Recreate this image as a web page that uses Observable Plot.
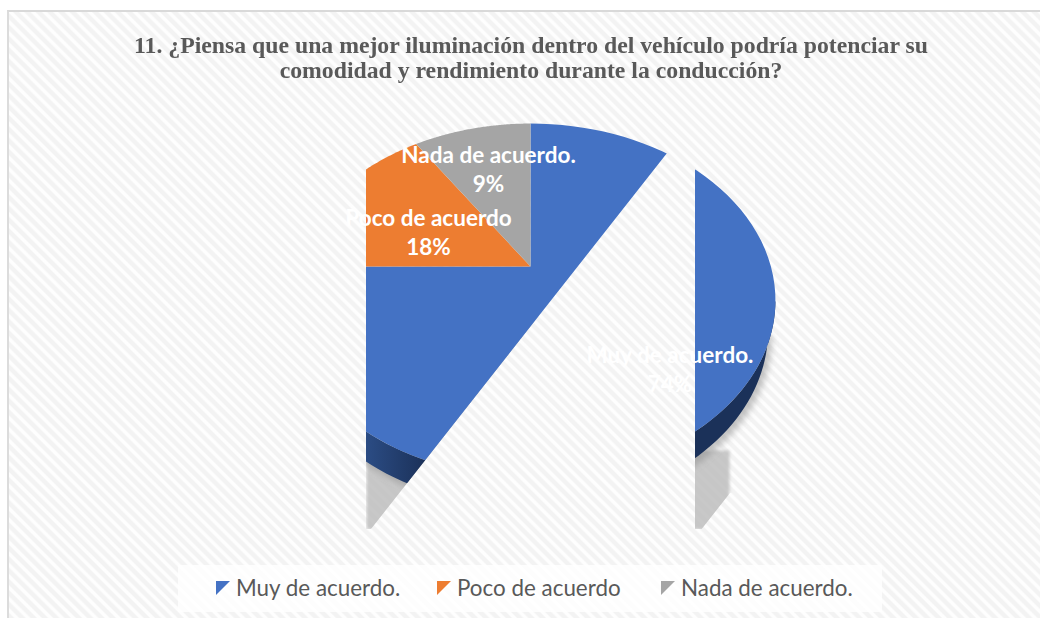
<!DOCTYPE html>
<html lang="es">
<head>
<meta charset="utf-8">
<script src="https://cdn.jsdelivr.net/npm/d3@7"></script>
<script src="https://cdn.jsdelivr.net/npm/@observablehq/plot@0.6"></script>
<style>
html,body{margin:0;padding:0;background:#fff;width:1040px;height:618px;overflow:hidden}
#chart{position:absolute;left:7px;top:10px;width:1033px;height:608px;box-sizing:border-box;
  border-left:2px solid #dcdcdc;border-top:2px solid #d9d9d9;
  background:repeating-linear-gradient(45deg,#f3f3f3 0,#f3f3f3 3px,#fefefe 4.5px,#fefefe 6.5px,#f3f3f3 8px)}
#title{position:absolute;left:0;top:33px;width:1062px;text-align:center;font:bold 23px/25px "Liberation Serif",serif;color:#595959;transform:scaleX(1.032);transform-origin:531px 0}
#plot{position:absolute;left:0;top:110px}
#plot svg{background:transparent;display:block}
#legend{position:absolute;left:178px;top:565px;width:704px;height:47px;background:rgba(255,255,255,.78);font:22.4px "Lato",sans-serif;color:#595959}
#legend span.k{position:absolute;top:16px;width:14px;height:14px;clip-path:polygon(0 0,100% 0,0 100%)}
#legend span.t{position:absolute;top:9px;white-space:nowrap}
</style>
</head>
<body>
<div id="chart"></div>
<div id="title">11. ¿Piensa que una mejor iluminación dentro del vehículo podría potenciar su<br>comodidad y rendimiento durante la conducción?</div>
<div id="plot"></div>
<div id="legend"></div>
<script>
// Data
const categories = ["Muy de acuerdo.", "Poco de acuerdo", "Nada de acuerdo."];
const printedLabels = ["74%", "18%", "9%"];
// Slice sizes as actually drawn in the picture (angles)
const drawnShares = [75, 15.7, 9.3];
const colors = ["#4472c4", "#ed7d31", "#a5a5a5"];

// Layout of the picture
const W = 1040, H = 430, top0 = 110;
const cx = 530, cy = 266, unit = 245;           // slice apex in page px, px per plot unit
const ux = px => (px - cx) / unit, uy = py => (cy - py) / unit;

// Projective tilt of the disc
const a = 240.4 / unit, b = 170.4 / unit, k = 0.192, depth = 30 / unit;
const rim = t => {
  const d = 1 + k * Math.cos(t);
  return [a * Math.sin(t) / d, b * Math.cos(t) / d];
};
const arcPts = (t0, t1, n = 90) => d3.range(n + 1).map(i => rim(t0 + (t1 - t0) * i / n));

const pie = d3.pie().sort(null)(drawnShares);
const wedgeRows = pie.flatMap((s, i) =>
  [[0, 0], ...arcPts(s.startAngle, s.endAngle), [0, 0]].map(([x, y], j) => ({x, y, j, key: categories[i]})));

// Front wall: the lower rim and the same rim moved down by the thickness, narrowing at the right
const wallT0 = Math.acos(-k), wallT1 = pie[0].endAngle;
const front = arcPts(wallT0, wallT1);
const outer = front.map(([x, y]) => [x > 0 ? x * 0.97 : x, y - depth]);
const wallPts = [...front, ...outer.slice().reverse()];
const wallRows = wallPts.map(([x, y]) => ({x, y}));
const haloRows = outer.map(([x, y]) => ({x: x + 4 / unit, y: y - 5 / unit}));
const shadowRows = [[366, 450], [729, 450], [729, 529], [366, 529]].map(([x, y]) => ({x: ux(x), y: uy(y)}));

// Visible windows of the pie
const windowA = [[366, 100], [708.8, 100], [371, 529], [366, 529]].map(([x, y]) => [ux(x), uy(y)]);
const windowB = [[695, 100], [800, 100], [800, 493], [730, 493], [701.7, 529], [695, 529]].map(([x, y]) => [ux(x), uy(y)]);

let clipSeq = 0;
const clipped = (blur) => (index, scales, values, dims, ctx, next) => {
  const g = next(index, scales, values, dims, ctx);
  const ns = "http://www.w3.org/2000/svg", id = "win" + (++clipSeq);
  const cp = document.createElementNS(ns, "clipPath");
  cp.setAttribute("id", id);
  for (const w of [windowA, windowB]) {
    const p = document.createElementNS(ns, "polygon");
    p.setAttribute("points", w.map(([x, y]) => scales.x(x) + "," + scales.y(y)).join(" "));
    cp.appendChild(p);
  }
  const wrap = document.createElementNS(ns, "g");
  wrap.setAttribute("clip-path", "url(#" + id + ")");
  wrap.appendChild(cp);
  if (blur) {
    const f = document.createElementNS(ns, "filter");
    f.setAttribute("id", id + "b");
    f.setAttribute("x", "-30%"); f.setAttribute("y", "-30%");
    f.setAttribute("width", "160%"); f.setAttribute("height", "160%");
    const fb = document.createElementNS(ns, "feGaussianBlur");
    fb.setAttribute("stdDeviation", blur);
    f.appendChild(fb); wrap.appendChild(f);
    g.setAttribute("filter", "url(#" + id + "b)");
  }
  wrap.appendChild(g);
  return wrap;
};

const wallGradient = () => {
  const ns = "http://www.w3.org/2000/svg";
  const d = document.createElementNS(ns, "defs");
  d.innerHTML = '<linearGradient id="wallg" gradientUnits="userSpaceOnUse" x1="366" x2="425" y1="0" y2="0">' +
    '<stop offset="0" stop-color="#2b4c84"/><stop offset="1" stop-color="#1b3159"/></linearGradient>';
  return d;
};

// Label anchor positions (centre of the two text lines), in page px
const labelRows = [
  {x: ux(669.5), y: uy(367.5), text: categories[0] + "\n" + printedLabels[0]},
  {x: ux(428), y: uy(230.5), text: categories[1] + "\n" + printedLabels[1]},
  {x: ux(488), y: uy(167.5), text: categories[2] + "\n" + printedLabels[2]}
];

const chart = Plot.plot({
  width: W, height: H, margin: 0,
  style: {background: "transparent", overflow: "visible"},
  x: {domain: [-1, 1], range: [cx - unit, cx + unit], axis: null},
  y: {domain: [1, -1], range: [cy - top0 - unit, cy - top0 + unit], axis: null},
  color: {domain: categories, range: colors},
  marks: [
    wallGradient,
    Plot.line(shadowRows, {x: "x", y: "y", fill: "#bcbcbc", fillOpacity: .82, stroke: "none", curve: "linear-closed", render: clipped(1.5)}),
    Plot.line(haloRows, {x: "x", y: "y", fill: "#8a8a8a", fillOpacity: .5, stroke: "none", curve: "linear-closed", render: clipped(3)}),
    Plot.line(wallRows, {x: "x", y: "y", fill: "url(#wallg)", stroke: "none", curve: "linear-closed", render: clipped(0)}),
    Plot.line(wedgeRows, {x: "x", y: "y", z: "key", fill: "key", stroke: "none", curve: "linear-closed", render: clipped(0)}),
    Plot.text(labelRows, {x: "x", y: "y", text: "text", fill: "#fff", fontFamily: "Lato", fontWeight: 700, fontSize: 22.5, lineHeight: 1.29, lineAnchor: "middle"})
  ]
});
document.getElementById("plot").appendChild(chart);

// Legend
const legendX = [[38, 58], [259, 279], [483, 503]];
const legend = d3.select("#legend");
categories.forEach((c, i) => {
  legend.append("span").attr("class", "k").style("left", legendX[i][0] + "px").style("background", colors[i]);
  legend.append("span").attr("class", "t").style("left", legendX[i][1] + "px").text(c);
});
</script>
</body>
</html>
